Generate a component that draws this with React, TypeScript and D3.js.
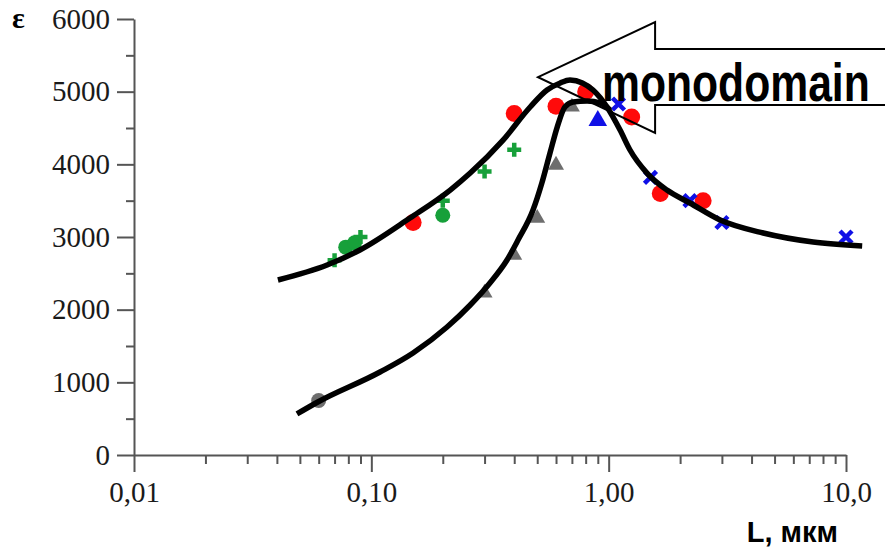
import React, { useRef, useEffect } from 'react';
import * as d3 from 'd3';

type Pt = [number, number];

// axis ticks
const xTicks = [0.01, 0.1, 1, 10];
const xTickLabels = ['0,01', '0,10', '1,00', '10,0'];
const xMinorTicks = [
  0.02, 0.03, 0.04, 0.05, 0.06, 0.07, 0.08, 0.09,
  0.2, 0.3, 0.4, 0.5, 0.6, 0.7, 0.8, 0.9,
  2, 3, 4, 5, 6, 7, 8, 9,
];
const yTicks = [0, 1000, 2000, 3000, 4000, 5000, 6000];
const yMinorTicks = [500, 1500, 2500, 3500, 4500, 5500];

// measured points [L, eps]
const redCircles: Pt[] = [[0.15, 3200], [0.4, 4700], [0.6, 4800], [0.8, 5000], [1.25, 4650], [1.65, 3600], [2.5, 3500]];
const greenCircles: Pt[] = [[0.078, 2860], [0.085, 2920], [0.2, 3300]];
const greenPluses: Pt[] = [[0.07, 2680], [0.09, 3000], [0.2, 3500], [0.3, 3900], [0.4, 4200]];
const grayTriangles: Pt[] = [[0.3, 2230], [0.4, 2750], [0.5, 3260], [0.6, 3990], [0.7, 4790]];
const grayCircles: Pt[] = [[0.06, 750]];
const blueTriangles: Pt[] = [[0.9, 4600]];
const blueCrosses: Pt[] = [[1.1, 4830], [1.5, 3820], [2.2, 3500], [3.0, 3200], [10, 3000]];

// fitted curves
const upperCurve: Pt[] = [
  [0.0404, 2408], [0.0651, 2614], [0.0895, 2821], [0.1455, 3261], [0.215, 3646],
  [0.261, 3880], [0.359, 4334], [0.467, 4789], [0.55, 5022], [0.625, 5120],
  [0.687, 5160], [0.775, 5120], [0.859, 5022], [0.984, 4789], [1.117, 4472],
  [1.23, 4197], [1.45, 3880], [1.76, 3646], [2.2, 3468], [2.95, 3234],
  [4.48, 3055], [7.27, 2931], [11.7, 2876],
];
const lowerCurve: Pt[] = [
  [0.0486, 565], [0.0595, 729], [0.1088, 1142], [0.1499, 1404], [0.2085, 1761],
  [0.261, 2064], [0.316, 2367], [0.373, 2683], [0.415, 2958], [0.48, 3371],
  [0.523, 3743], [0.566, 4156], [0.607, 4513], [0.654, 4789], [0.708, 4857],
  [0.811, 4871], [0.921, 4844], [1.014, 4747],
];

// "monodomain" arrow outline, in data coordinates
const arrowOutline: Pt[] = [
  [0.504, 5200], [1.569, 5958], [1.569, 5587], [16, 5587],
  [16, 4816], [1.569, 4816], [1.569, 4431],
];

const App = () => {
  const svgRef = useRef<SVGSVGElement>(null);

  useEffect(() => {
    const svg = d3.select(svgRef.current);
    svg.selectAll('*').remove();

    const x = d3.scaleLog().domain([0.01, 10]).range([134, 846]);
    const y = d3.scaleLinear().domain([0, 6000]).range([455, 19]);

    const axisColor = '#555';
    const tickFont = '"Liberation Serif", "Times New Roman", serif';
    const sansFont = '"Liberation Sans", Arial, sans-serif';

    // y axis
    const yAxis = svg.append('g')
      .attr('transform', `translate(${x(0.01)},0)`)
      .call(d3.axisLeft(y).tickValues(yTicks).tickSize(17).tickSizeOuter(0).tickFormat(d3.format('d')));
    yAxis.append('g')
      .call(d3.axisLeft(y).tickValues(yMinorTicks).tickSize(8).tickFormat(() => ''))
      .select('.domain').remove();

    // x axis
    const xAxis = svg.append('g')
      .attr('transform', `translate(0,${y(0)})`)
      .call(d3.axisBottom(x).tickValues(xTicks).tickSize(17).tickSizeOuter(0)
        .tickFormat((d, i) => xTickLabels[i]));
    xAxis.append('g')
      .call(d3.axisBottom(x).tickValues(xMinorTicks).tickSize(9).tickFormat(() => ''))
      .select('.domain').remove();

    [yAxis, xAxis].forEach(g => {
      g.selectAll('path, line').attr('stroke', axisColor).attr('stroke-width', 2);
      g.selectAll('text')
        .attr('fill', '#1a1a1a')
        .style('font-family', tickFont)
        .style('font-size', '29px');
    });
    yAxis.selectAll('text').attr('x', -24).attr('dy', '0.32em');
    xAxis.selectAll('text').attr('y', 47).attr('dy', 0);

    // markers
    const marks = svg.append('g');
    const circle = (data: Pt[], r: number, color: string) => marks.selectAll(null)
      .data(data).enter().append('circle')
      .attr('cx', d => x(d[0])).attr('cy', d => y(d[1]))
      .attr('r', r).attr('fill', color);
    const triangle = (data: Pt[], size: number, color: string) => marks.selectAll(null)
      .data(data).enter().append('path')
      .attr('transform', d => `translate(${x(d[0])},${y(d[1])})`)
      .attr('d', d3.symbol(d3.symbolTriangle, size)())
      .attr('fill', color);

    circle(redCircles, 8.5, '#ff0a0a');
    circle(greenCircles, 7.5, '#17a03a');
    marks.selectAll(null).data(greenPluses).enter().append('path')
      .attr('d', d => `M${x(d[0]) - 7},${y(d[1])}h14M${x(d[0])},${y(d[1]) - 7}v14`)
      .attr('stroke', '#17a03a').attr('stroke-width', 4.5).attr('fill', 'none');
    triangle(grayTriangles, 110, '#6e6e6e');
    triangle(blueTriangles, 150, '#1010e6');
    marks.selectAll(null).data(blueCrosses).enter().append('path')
      .attr('d', d => {
        const cx = x(d[0]), cy = y(d[1]);
        return `M${cx - 6},${cy - 6}l12,12M${cx - 6},${cy + 6}l12,-12`;
      })
      .attr('stroke', '#1010e6').attr('stroke-width', 4.5).attr('fill', 'none');

    // curves
    const line = d3.line<Pt>()
      .x(d => x(d[0]))
      .y(d => y(d[1]))
      .curve(d3.curveMonotoneX);
    [upperCurve, lowerCurve].forEach(c => {
      svg.append('path')
        .attr('d', line(c))
        .attr('fill', 'none')
        .attr('stroke', '#000')
        .attr('stroke-width', 5.5);
    });

    circle(grayCircles, 7.5, '#6e6e6e').raise();

    // axis titles
    svg.append('text')
      .attr('x', 12).attr('y', 28)
      .style('font-family', tickFont)
      .style('font-weight', 'bold')
      .style('font-size', '30px')
      .text('ε');
    svg.append('text')
      .attr('x', 838).attr('y', 542)
      .attr('text-anchor', 'end')
      .style('font-family', sansFont)
      .style('font-weight', 'bold')
      .style('font-size', '29px')
      .text('L, мкм');

    // annotation arrow
    svg.append('path')
      .attr('d', d3.line<Pt>().x(d => x(d[0])).y(d => y(d[1])).curve(d3.curveLinearClosed)(arrowOutline))
      .attr('fill', 'none')
      .attr('stroke', '#000')
      .attr('stroke-width', 2);
    svg.append('text')
      .attr('transform', 'translate(602,101) scale(0.79,1)')
      .style('font-family', sansFont)
      .style('font-weight', 'bold')
      .style('font-size', '54px')
      .text('monodomain');
  }, []);

  return (
    <svg
      ref={svgRef}
      width={885}
      height={549}
      style={{ position: 'absolute', left: 0, top: 0, background: '#fff' }}
    />
  );
};

export default App;
